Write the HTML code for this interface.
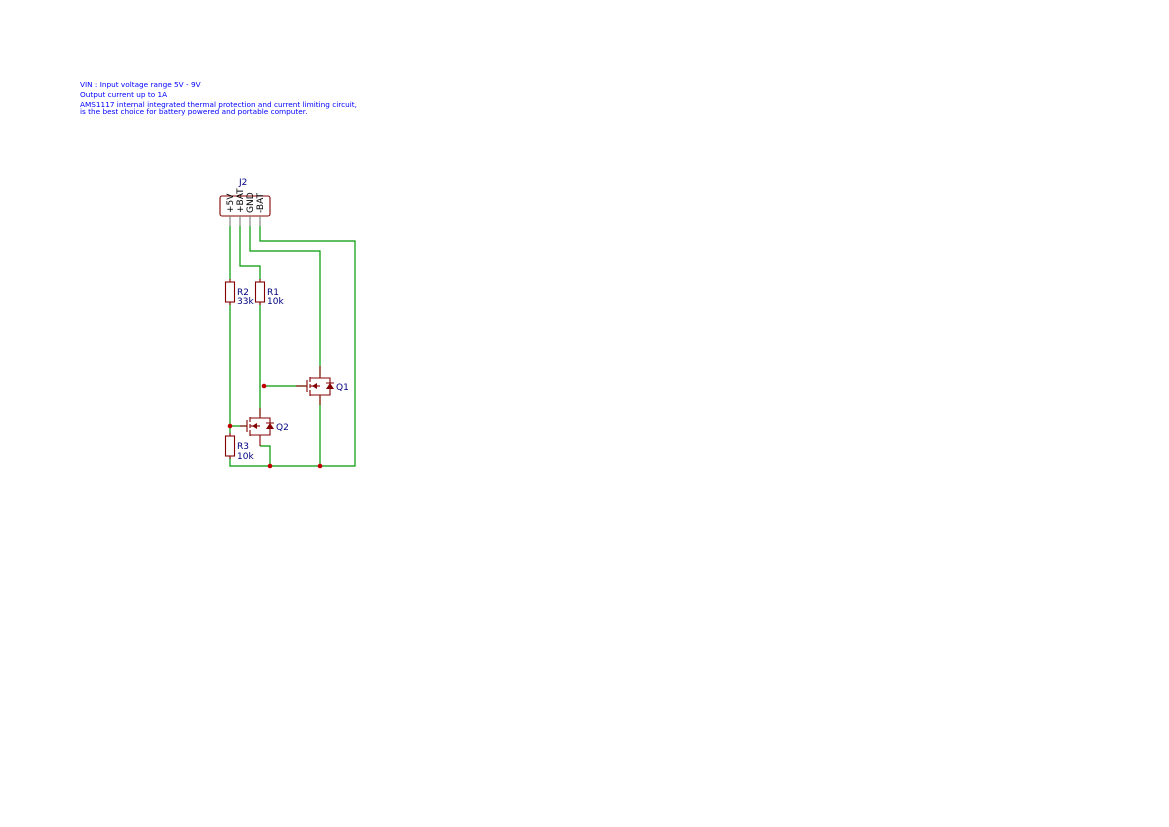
<!DOCTYPE html>
<html><head><style>body{margin:0;background:#fff}svg{display:block}</style></head><body>
<svg width="1169" height="827" viewBox="0 0 1169 827" xmlns="http://www.w3.org/2000/svg" font-family="DejaVu Sans, Liberation Sans, sans-serif">
<g fill="#0000ff" font-size="7.3">
<text x="80" y="87">VIN : Input voltage range 5V - 9V</text>
<text x="80" y="97">Output current up to 1A</text>
<text x="80" y="107">AMS1117 internal integrated thermal protection and current limiting circuit,</text>
<text x="80" y="114">is the best choice for battery powered and portable computer.</text>
</g>
<g stroke="#009900" stroke-width="1.2" fill="none">
<polyline points="230,226 230,280"/>
<polyline points="230,303 230,434"/>
<polyline points="230,457 230,466 355,466 355,241 260,241 260,226"/>
<polyline points="250,226 250,251 320,251 320,376"/>
<polyline points="320,396 320,466"/>
<polyline points="240,226 240,266 260,266 260,280"/>
<polyline points="260,303 260,416"/>
<polyline points="264,386 306,386"/>
<polyline points="230,426 246,426"/>
<polyline points="260,446 270,446 270,466"/>
</g>
<g stroke="#840000" stroke-width="1.1" fill="none">
<rect x="220" y="196" width="50" height="20" rx="2"/>
<rect x="225.5" y="282" width="9" height="20"/>
<rect x="255.5" y="282" width="9" height="20"/>
<rect x="225.5" y="436" width="9" height="20"/>
<line x1="230" y1="279" x2="230" y2="282"/><line x1="230" y1="302" x2="230" y2="305"/>
<line x1="260" y1="279" x2="260" y2="282"/><line x1="260" y1="302" x2="260" y2="305"/>
<line x1="230" y1="433" x2="230" y2="436"/><line x1="230" y1="456" x2="230" y2="459"/>
<line x1="296" y1="386" x2="307" y2="386"/>
<line x1="307" y1="380" x2="307" y2="392"/>
<line x1="310" y1="377" x2="310" y2="382"/><line x1="310" y1="384" x2="310" y2="388"/><line x1="310" y1="390" x2="310" y2="396"/>
<polyline points="310,378 320,378 320,366"/>
<polyline points="310,395 320,395 320,405"/>
<line x1="310" y1="386" x2="320" y2="386"/>
<polyline points="320,378 330,378 330,395 320,395"/>
<line x1="240" y1="426" x2="247" y2="426"/>
<line x1="247" y1="420" x2="247" y2="432"/>
<line x1="250" y1="417" x2="250" y2="422"/><line x1="250" y1="424" x2="250" y2="428"/><line x1="250" y1="430" x2="250" y2="436"/>
<polyline points="250,418 260,418 260,408"/>
<polyline points="250,435 260,435 260,446"/>
<line x1="250" y1="426" x2="260" y2="426"/>
<polyline points="260,418 270,418 270,435 260,435"/>
</g>
<g fill="#840000">
<polygon points="312,386 317,383 317,389"/>
<polygon points="326,389 334,389 330,383"/><rect x="326" y="382.5" width="8" height="1"/>
<polygon points="252,426 257,423 257,429"/>
<polygon points="266,429 274,429 270,423"/><rect x="266" y="422.5" width="8" height="1"/>
</g>
<g stroke="#848484" stroke-width="1.2">
<line x1="230" y1="216" x2="230" y2="226"/><line x1="240" y1="216" x2="240" y2="226"/>
<line x1="250" y1="216" x2="250" y2="226"/><line x1="260" y1="216" x2="260" y2="226"/>
</g>
<g fill="#c00000">
<circle cx="264" cy="386" r="2.3"/><circle cx="230" cy="426" r="2.3"/>
<circle cx="270" cy="466" r="2.3"/><circle cx="320" cy="466" r="2.3"/>
</g>
<g font-size="9" fill="#000">
<text transform="translate(233,213) rotate(-90)">+5V</text>
<text transform="translate(243,213) rotate(-90)">+BAT</text>
<text transform="translate(253,213) rotate(-90)">GND</text>
<text transform="translate(263,213) rotate(-90)">-BAT</text>
</g>
<g font-size="9" fill="#000080">
<text x="239" y="185">J2</text>
<text x="237" y="295">R2</text><text x="237" y="304">33k</text>
<text x="267" y="295">R1</text><text x="267" y="304">10k</text>
<text x="237" y="449">R3</text><text x="237" y="459">10k</text>
<text x="336" y="390">Q1</text>
<text x="276" y="430">Q2</text>
</g>
</svg>
</body></html>
